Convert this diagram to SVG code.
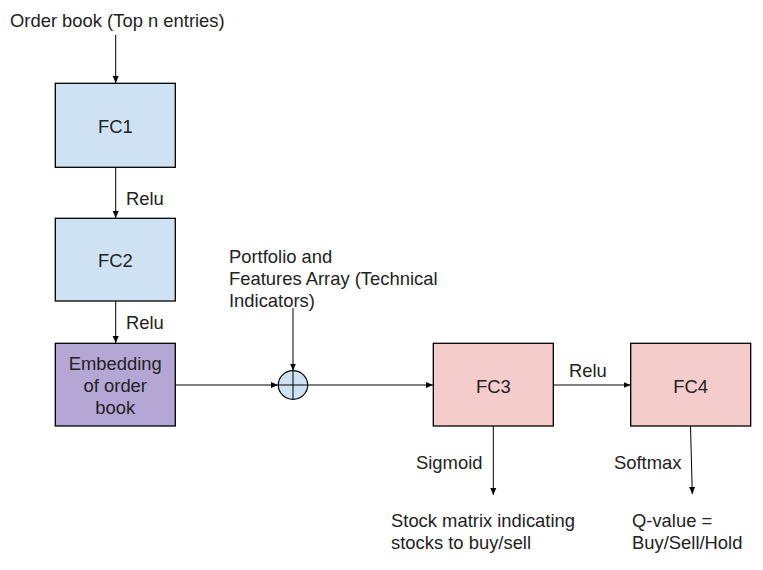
<svg xmlns="http://www.w3.org/2000/svg" width="763" height="570" viewBox="0 0 763 570">
<defs>
<style>
text{font-family:"Liberation Sans",Arial,sans-serif;font-size:18.4px;fill:#222}
.c{text-anchor:middle}
.box{stroke:#000;stroke-width:1.3}
.blue{fill:#cfe2f3}
.purple{fill:#b4a7d6}
.red{fill:#f4cccc}
.ln{stroke:#000;stroke-width:1;fill:none;marker-end:url(#ah)}
</style>
<marker id="ah" markerUnits="userSpaceOnUse" markerWidth="8" markerHeight="8" viewBox="0 0 8 8" refX="7" refY="4" orient="auto">
<path d="M0,1 L7,4 L0,7 Z" fill="#000"/>
</marker>
</defs>
<rect width="763" height="570" fill="#fff"/>
<g id="connectors">
<line class="ln" x1="115.7" y1="35" x2="115.7" y2="83"/>
<line class="ln" x1="115.7" y1="167" x2="115.7" y2="218"/>
<line class="ln" x1="115.7" y1="301" x2="115.7" y2="343"/>
<line class="ln" x1="175" y1="385" x2="278" y2="385"/>
<line class="ln" x1="293" y1="308" x2="293" y2="370.5"/>
<line class="ln" x1="308" y1="385" x2="433" y2="385"/>
<line class="ln" x1="553" y1="385" x2="630.5" y2="385"/>
<line class="ln" x1="493.3" y1="426" x2="493.3" y2="495"/>
<line class="ln" x1="690.5" y1="426" x2="692.3" y2="494"/>
</g>
<g id="labels">
<text x="10" y="27">Order book (Top n entries)</text>
<text x="126" y="204.5">Relu</text>
<text x="126" y="328.5">Relu</text>
<text x="229" y="262.5">Portfolio and</text>
<text x="229" y="285">Features Array (Technical</text>
<text x="229" y="307">Indicators)</text>
<text x="569" y="376.5">Relu</text>
<text x="416" y="468.5">Sigmoid</text>
<text x="614" y="468.5">Softmax</text>
<text x="391" y="527">Stock matrix indicating</text>
<text x="391" y="548.5">stocks to buy/sell</text>
<text x="632" y="527">Q-value =</text>
<text x="632" y="548.5">Buy/Sell/Hold</text>
</g>
<g id="fc1">
<rect class="box blue" x="55.3" y="83.3" width="120" height="84"/>
<text class="c" x="115.3" y="132.5">FC1</text>
</g>
<g id="fc2">
<rect class="box blue" x="55.3" y="218.3" width="120" height="82.7"/>
<text class="c" x="115.3" y="267">FC2</text>
</g>
<g id="embedding">
<rect class="box purple" x="55.3" y="343.3" width="120" height="82.7"/>
<text class="c" x="115.3" y="369.5">Embedding</text>
<text class="c" x="115.3" y="391.5">of order</text>
<text class="c" x="115.3" y="413.5">book</text>
</g>
<g id="sum">
<ellipse cx="293" cy="385" rx="14.7" ry="14.3" fill="#cfe2f3" stroke="#000" stroke-width="1.2"/>
<line x1="278.3" y1="385" x2="307.7" y2="385" stroke="#000" stroke-width="1"/>
<line x1="293" y1="370.7" x2="293" y2="399.3" stroke="#000" stroke-width="1"/>
</g>
<g id="fc3">
<rect class="box red" x="433.3" y="343.3" width="120" height="82.7"/>
<text class="c" x="493.3" y="392.5">FC3</text>
</g>
<g id="fc4">
<rect class="box red" x="630.7" y="343.3" width="120" height="82.7"/>
<text class="c" x="690.7" y="392.5">FC4</text>
</g>
</svg>
